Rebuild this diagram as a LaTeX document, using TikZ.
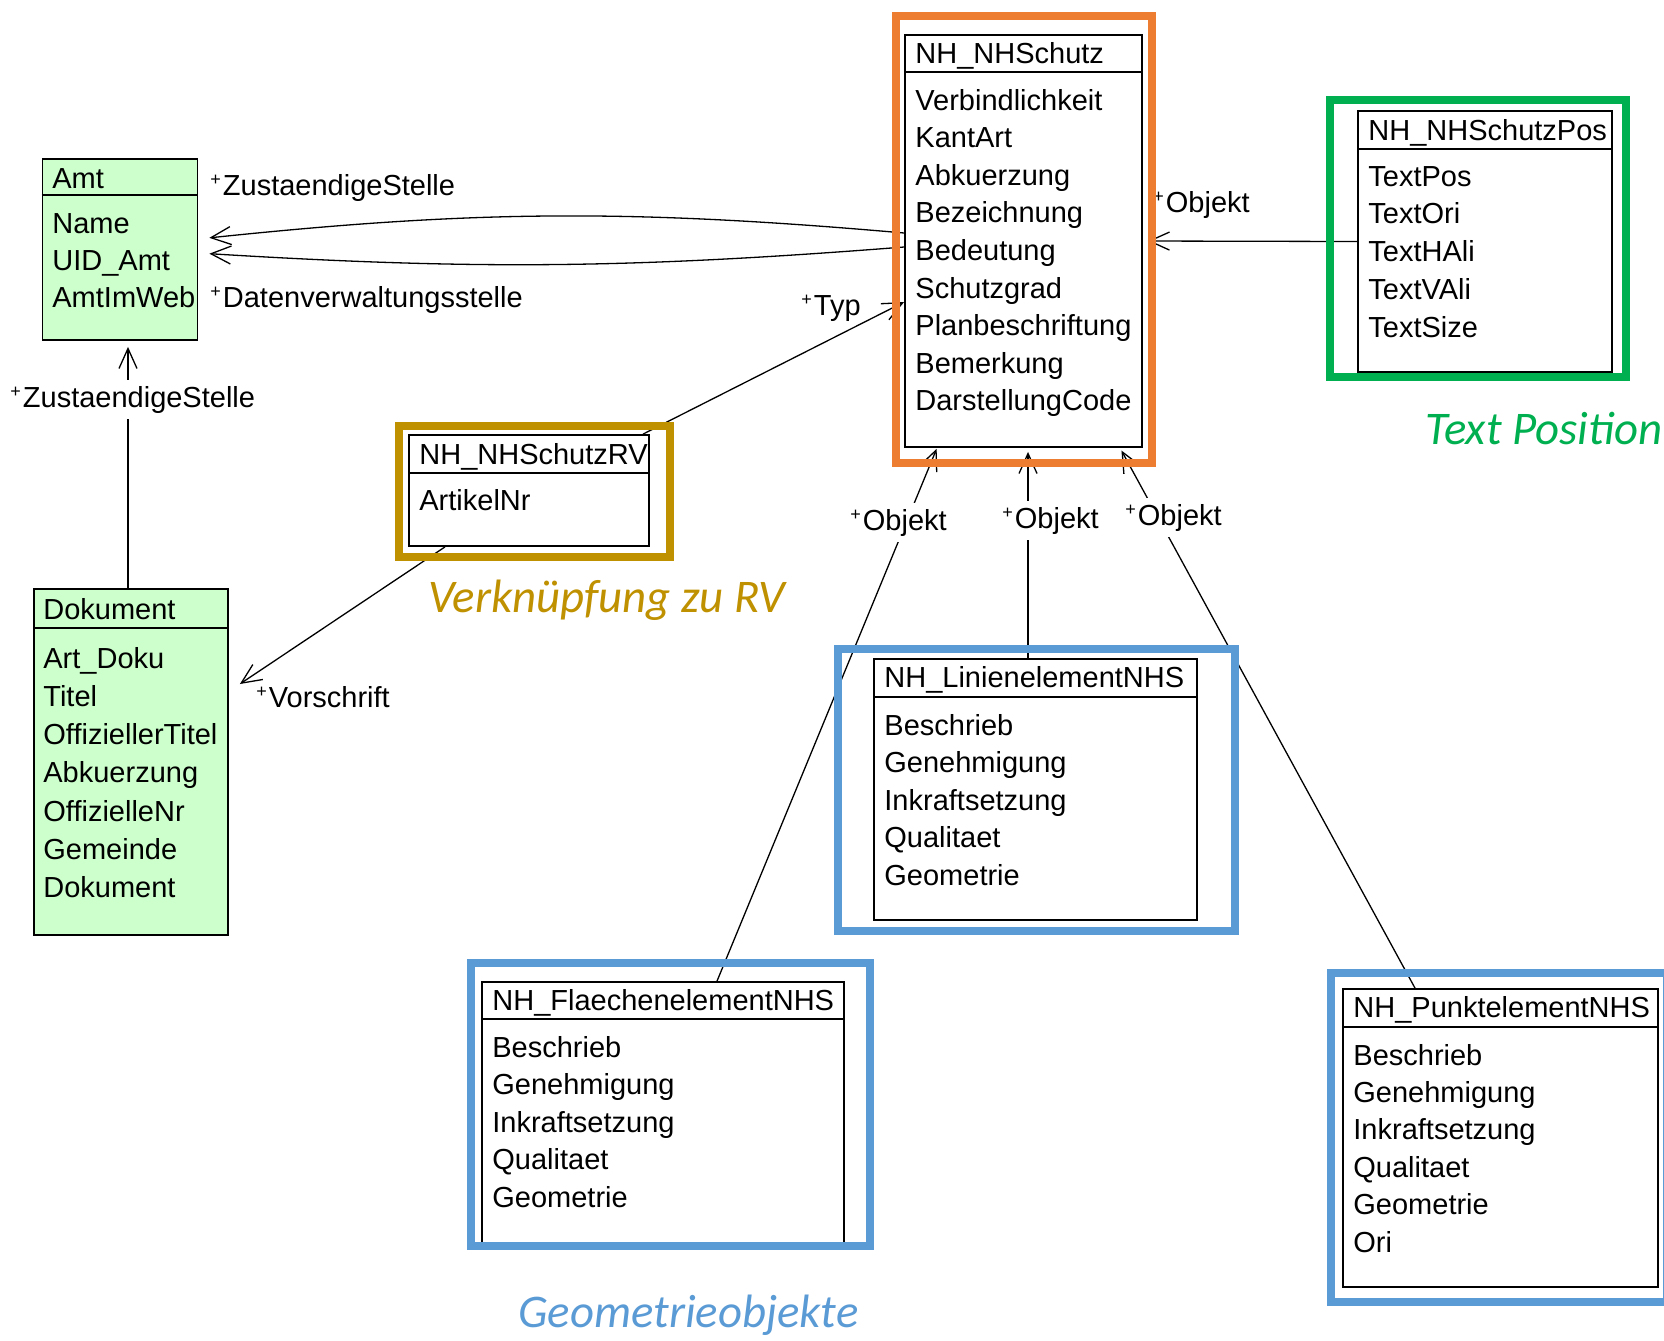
\documentclass[tikz,border=0pt]{standalone}
\usepackage{fontspec}
\setmainfont{Liberation Sans}[Ligatures=NoCommon]
\newfontfamily\notizfont{Carlito}
\usepackage{tikz}
\usetikzlibrary{arrows.meta,fit}

\definecolor{rahmenorange}{HTML}{ED7D31}
\definecolor{rahmengruen}{HTML}{00B050}
\definecolor{rahmengold}{HTML}{BF9000}
\definecolor{rahmenblau}{HTML}{5B9BD5}
\definecolor{klassgruen}{HTML}{CCFFCC}

\newcommand{\rolle}{\raisebox{0.33em}{\fontsize{9}{9}\selectfont+}\hspace{1pt}}

\begin{document}
\begin{tikzpicture}[x=0.5pt,y=-0.5pt,
    font=\fontsize{14.5}{17}\selectfont,
    klasse/.style={draw, line width=0.9pt, inner sep=0pt},
    trenn/.style={line width=0.9pt},
    titel/.style={anchor=base west, inner sep=0pt},
    attr/.style={anchor=base west, inner sep=0pt},
    pfeil/.style={line width=0.65pt, -{Straight Barb[length=10pt,width=9pt]}},
    rollentext/.style={anchor=base west, inner xsep=1pt, inner ysep=3pt},
    rahmen/.style={line width=4pt},
    notiz/.style={anchor=base west, inner sep=0pt,
      font=\notizfont\itshape\fontsize{23.4}{28}\selectfont}]

\useasboundingbox (0,0) rectangle (1664,1340);

% Klassen
\node[klasse, fill=klassgruen, fit={(42.5,159) (197.5,340)}] (amt) {};
\draw[trenn] (amt.west |- 0,195) -- (amt.east |- 0,195);
\node[titel] (amt-t) at (52,188) {Amt};
\foreach \a [count=\i] in {Name, UID\_Amt, AmtImWeb}
  \node[attr] (amt-\i) at (52,{233+37*(\i-1)}) {\a};

\node[klasse, fill=klassgruen, fit={(34,589) (228,935)}] (dok) {};
\draw[trenn] (dok.west |- 0,628) -- (dok.east |- 0,628);
\node[titel] (dok-t) at (43,619) {Dokument};
\foreach \a [count=\i] in {Art\_Doku, Titel, OffiziellerTitel, Abkuerzung,
    OffizielleNr, Gemeinde, Dokument}
  \node[attr] (dok-\i) at (43,{668+38.3*(\i-1)}) {\a};

\node[klasse, fill=white, fit={(905,35) (1142,447)}] (nhs) {};
\draw[trenn] (nhs.west |- 0,72) -- (nhs.east |- 0,72);
\node[titel] (nhs-t) at (915,63) {NH\_NHSchutz};
\foreach \a [count=\i] in {Verbindlichkeit, KantArt, Abkuerzung, Bezeichnung,
    Bedeutung, Schutzgrad, Planbeschriftung, Bemerkung, DarstellungCode}
  \node[attr] (nhs-\i) at (915,{110+37.6*(\i-1)}) {\a};

\node[klasse, fit={(1358,111) (1612,372)}] (nhsp) {};
\draw[trenn] (nhsp.west |- 0,149) -- (nhsp.east |- 0,149);
\node[titel] (nhsp-t) at (1368,140) {NH\_NHSchutzPos};
\foreach \a [count=\i] in {TextPos, TextOri, TextHAli, TextVAli, TextSize}
  \node[attr] (nhsp-\i) at (1368,{186+37.8*(\i-1)}) {\a};

\node[klasse, fit={(409,435) (649,546)}] (nhsrv) {};
\draw[trenn] (nhsrv.west |- 0,473) -- (nhsrv.east |- 0,473);
\node[titel] (nhsrv-t) at (419,464) {NH\_NHSchutzRV};
\node[attr] (nhsrv-1) at (419,510) {ArtikelNr};

\node[klasse, fit={(874,659) (1197,920)}] (lin) {};
\draw[trenn] (lin.west |- 0,697) -- (lin.east |- 0,697);
\node[titel] (lin-t) at (884,687) {NH\_LinienelementNHS};
\foreach \a [count=\i] in {Beschrieb, Genehmigung, Inkraftsetzung, Qualitaet, Geometrie}
  \node[attr] (lin-\i) at (884,{735+37.5*(\i-1)}) {\a};

\node[klasse, fit={(482,982) (844,1246)}] (flae) {};
\draw[trenn] (flae.west |- 0,1019) -- (flae.east |- 0,1019);
\node[titel] (flae-t) at (492,1010) {NH\_FlaechenelementNHS};
\foreach \a [count=\i] in {Beschrieb, Genehmigung, Inkraftsetzung, Qualitaet, Geometrie}
  \node[attr] (flae-\i) at (492,{1057+37.5*(\i-1)}) {\a};

\node[klasse, fit={(1343,989) (1658,1287)}] (pkt) {};
\draw[trenn] (pkt.west |- 0,1027) -- (pkt.east |- 0,1027);
\node[titel] (pkt-t) at (1353,1017) {NH\_PunktelementNHS};
\foreach \a [count=\i] in {Beschrieb, Genehmigung, Inkraftsetzung, Qualitaet, Geometrie, Ori}
  \node[attr] (pkt-\i) at (1353,{1065+37.4*(\i-1)}) {\a};

% Assoziationen
\draw[pfeil, shorten >=5.5pt] ([yshift=4pt]nhs.west) to[bend right=5.5] ([yshift=5.25pt]amt.east);
\draw[pfeil, shorten >=5.5pt] ([yshift=-3pt]nhs.west) to[bend left=4] ([yshift=-1.75pt]amt.east);
\draw[pfeil, shorten >=3pt] (dok.north -| 128,0) -- (amt.south -| 128,0);
\draw[pfeil] (nhsrv.south -| 445,0) -- ([xshift=5.5pt]dok.east |- 0,684);
\draw[pfeil] (nhsrv.north -| 643,0) -- (nhs.west |- 0,302);
\draw[pfeil, shorten >=2.5pt] (nhsp.west) -- (nhs.east);
\draw[pfeil, shorten >=0.5pt] (flae.north -| 717,0) -- (nhs.south -| 937,0);
\draw[pfeil, shorten >=2pt] (lin.north -| 1028,0) -- (nhs.south -| 1028,0);
\draw[pfeil, shorten >=1.5pt] (pkt.north -| 1415,0) -- (nhs.south -| 1120,0);

% Rollen
\node[rollentext] (r-zs1) at (208,195) {\rolle ZustaendigeStelle};
\node[rollentext] (r-dv) at (208,307) {\rolle Datenverwaltungsstelle};
\node[rollentext, fill=white] (r-zs2) at (8,407) {\rolle ZustaendigeStelle};
\node[rollentext] (r-vs) at (254,707) {\rolle Vorschrift};
\node[rollentext] (r-typ) at (799,315) {\rolle Typ};
\node[rollentext] (r-pos) at (1151,212) {\rolle Objekt};
\node[rollentext, fill=white] (r-fl) at (848,530) {\rolle Objekt};
\node[rollentext, fill=white] (r-li) at (1000,528) {\rolle Objekt};
\node[rollentext, fill=white] (r-pk) at (1123,525) {\rolle Objekt};

% Rahmen
\draw[rahmen, rahmenorange] (895.5,16) rectangle (1151.5,463);
\draw[rahmen, rahmengruen] (1330,99.5) rectangle (1626,377);
\draw[rahmen, rahmengold] (399,425.5) rectangle (670,556.5);
\draw[rahmen, rahmenblau] (837.5,649) rectangle (1235,931);
\draw[rahmen, rahmenblau] (471,963) rectangle (870,1246);
\draw[rahmen, rahmenblau] (1331,973) rectangle (1667,1302);

% Notizen
\node[notiz, text=rahmengold] (n-rv) at (428,612) {Verknüpfung zu RV};
\node[notiz, text=rahmengruen] (n-pos) at (1425,444) {Text Position};
\node[notiz, text=rahmenblau] (n-geo) at (518,1327) {Geometrieobjekte};
\end{tikzpicture}
\end{document}
